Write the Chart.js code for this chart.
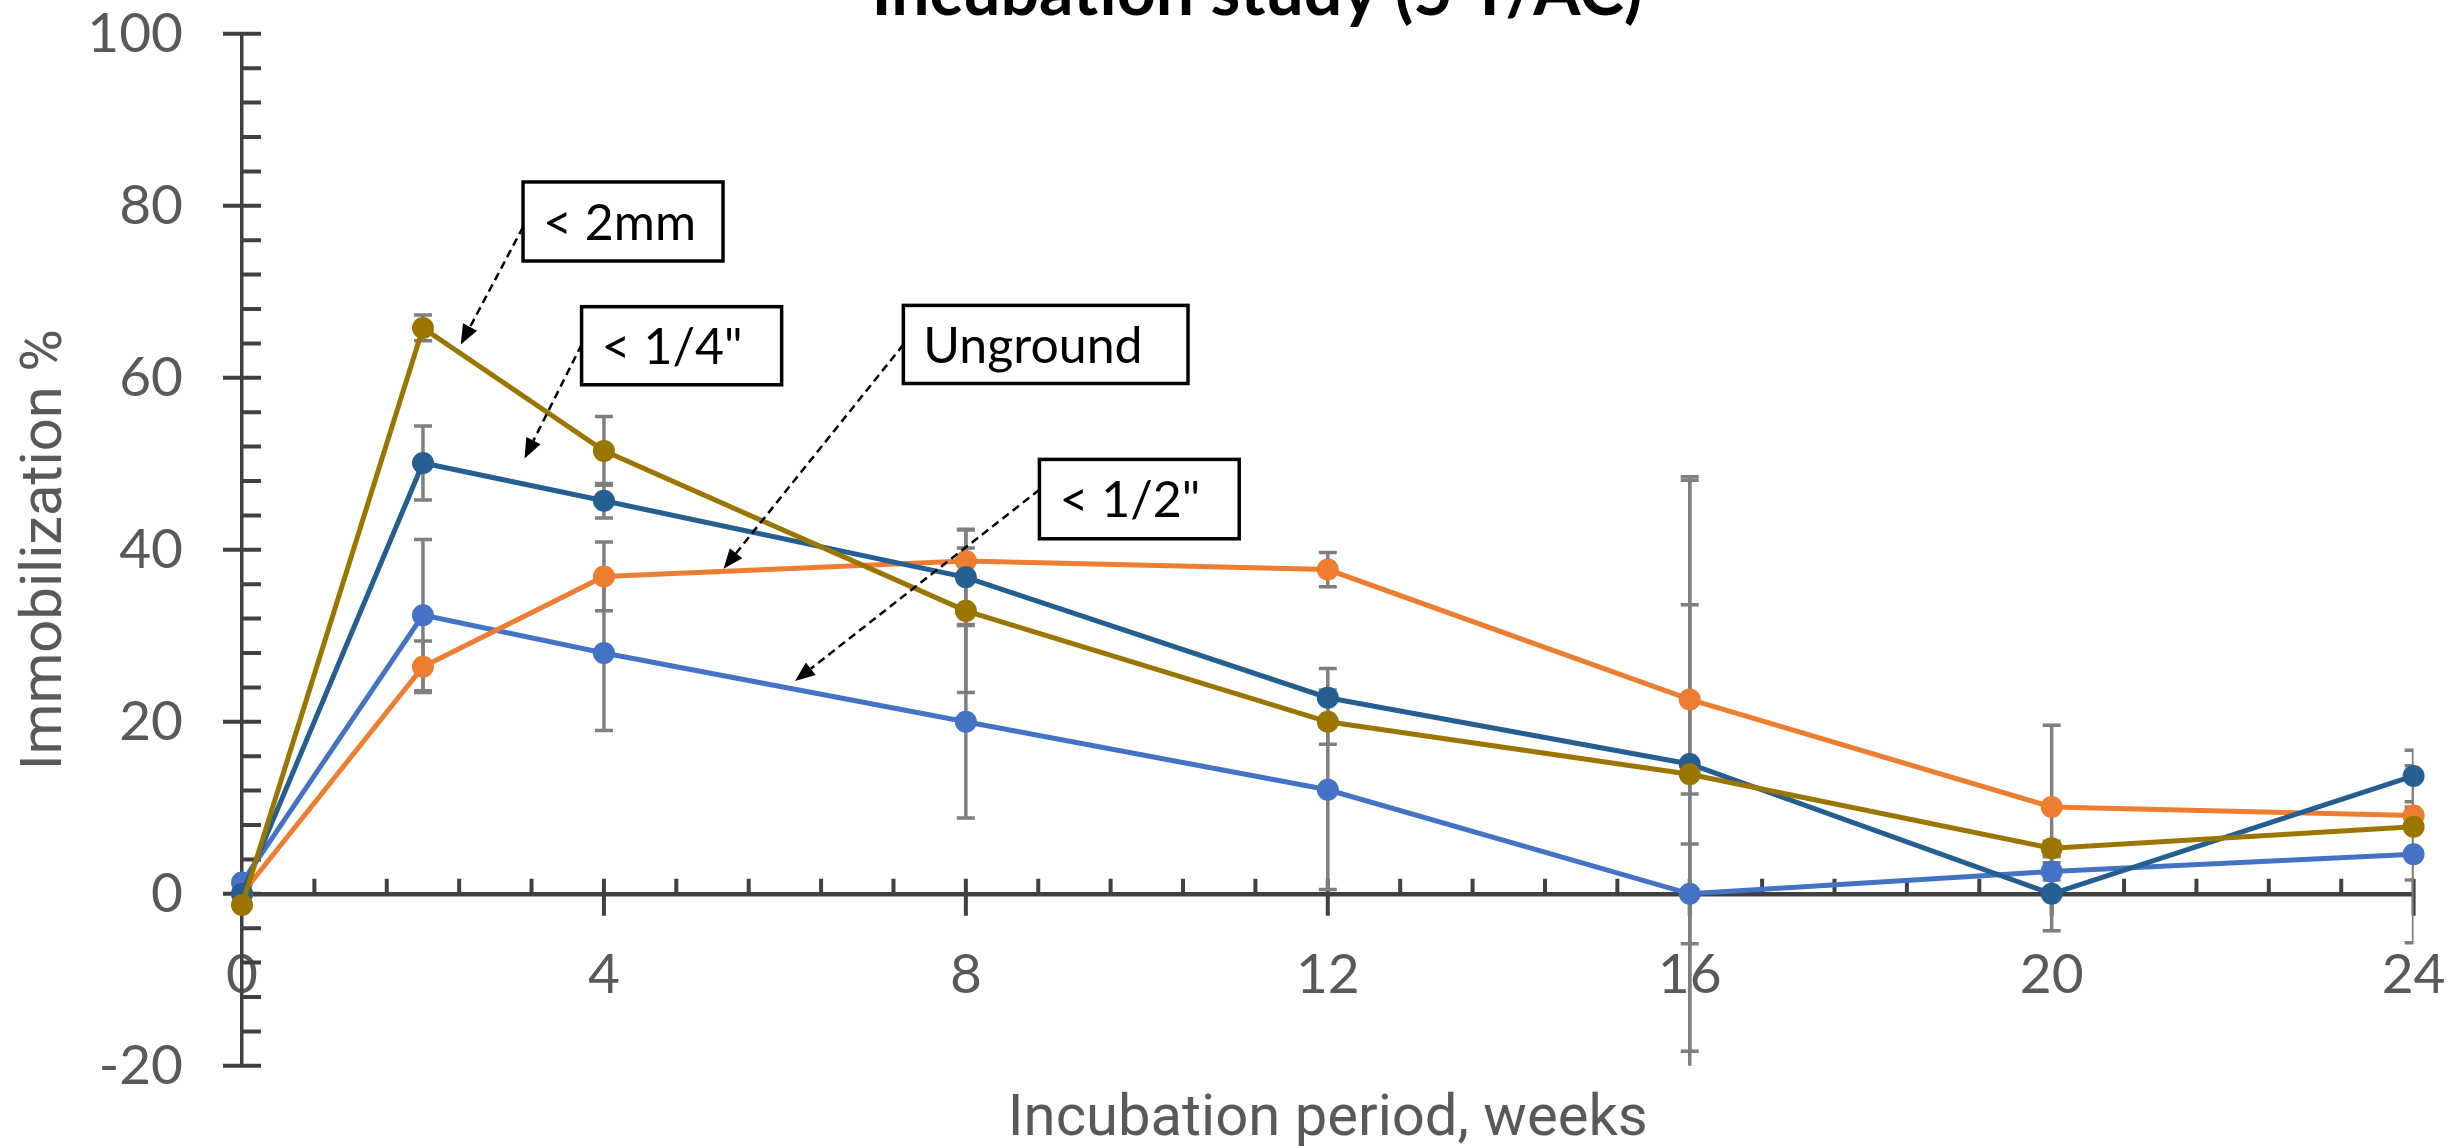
<!DOCTYPE html>
<html>
<head>
<meta charset="utf-8">
<title>Incubation study (5 T/AC)</title>
<script src="https://cdn.jsdelivr.net/npm/chart.js@4.4.1/dist/chart.umd.min.js"></script>
<style>
  html, body { margin: 0; padding: 0; background: #fff; overflow: hidden; }
  #chart { display: block; width: 2451px; height: 1146px; }
</style>
</head>
<body>
<canvas id="chart" width="2451" height="1146"></canvas>
<script>
(function () {
  'use strict';

  // ---- data ----
  var weeks = [0, 2, 4, 8, 12, 16, 20, 24];

  var seriesNames = ['< 2mm', '< 1/4"', 'Unground', '< 1/2"'];

  var below2mm = [-1.3, 65.8, 51.5, 32.9, 20.0, 13.9, 5.3, 7.8];
  var below2mmErr = [0, 1.5, 4.0, 9.5, 2.6, 34.2, 0.8, 6.2];

  var belowQuarter = [0, 50.1, 45.7, 36.8, 22.8, 15.1, 0, 13.7];
  var belowQuarterErr = [0, 4.3, 2.0, 5.5, 3.4, 33.4, 4.3, 3.0];

  var unground = [0, 26.4, 36.9, 38.7, 37.7, 22.6, 10.1, 9.1];
  var ungroundErr = [0, 3.0, 4.0, 1.5, 2.0, 11.0, 9.5, 1.0];

  var belowHalf = [1.3, 32.4, 28.0, 20.0, 12.1, 0, 2.6, 4.6];
  var belowHalfErr = [0, 8.8, 9.0, 11.2, 11.6, 5.8, 1.0, 10.3];

  var xTickValues = [0, 4, 8, 12, 16, 20, 24];
  var yTickValues = [-20, 0, 20, 40, 60, 80, 100];

  var chartTitle = 'Incubation study (5 T/AC)';
  var xTitle = 'Incubation period, weeks';
  var yTitle = 'Immobilization %';

  // callout boxes, in data units (weeks, %)
  var notes = [
    { text: '< 2mm', box: [3.106, 82.77, 5.316, 73.58], tail: [3.106, 77.53], tip: [2.417, 63.86] },
    { text: '< 1/4"', box: [3.753, 68.27, 5.964, 59.19], tail: [3.753, 63.86], tip: [3.122, 50.62] },
    { text: 'Unground', box: [7.309, 68.42, 10.455, 59.34], tail: [7.309, 63.86], tip: [5.322, 37.79] },
    { text: '< 1/2"', box: [8.813, 50.51, 11.021, 41.28], tail: [8.813, 46.99], tip: [6.112, 24.74] }
  ];

  // ---- style ----
  var colors = ['#9a7600', '#255e91', '#ed7d31', '#4472c4'];
  var AXIS = '#404040';
  var TEXT = '#595959';
  var ERR = '#7f7f7f';

  function toPoints(values) {
    return values.map(function (v, i) { return { x: weeks[i], y: v }; });
  }

  function makeDataset(idx, values, errs) {
    return {
      label: seriesNames[idx],
      data: toPoints(values),
      errors: errs,
      borderColor: colors[idx],
      backgroundColor: colors[idx],
      pointBackgroundColor: colors[idx],
      pointBorderColor: colors[idx],
      pointRadius: 11,
      pointBorderWidth: 0,
      borderWidth: 5,
      tension: 0,
      fill: false,
      clip: false
    };
  }

  var axisTicks = {
    id: 'axisTicks',
    beforeDatasetsDraw: function (chart) {
      var ctx = chart.ctx;
      var x = chart.scales.x;
      var y = chart.scales.y;
      var x0 = chart.chartArea.left;
      var y0 = y.getPixelForValue(0);
      var v;
      ctx.save();
      ctx.strokeStyle = AXIS;
      ctx.lineWidth = 4;
      ctx.beginPath();
      // x: minor every 0.8 week pointing up, major every 4 crossing
      for (v = 0.8; v < 24; v += 0.8) {
        var px = x.getPixelForValue(v);
        ctx.moveTo(px, y0 - 15);
        ctx.lineTo(px, y0);
      }
      xTickValues.forEach(function (t) {
        if (t === 0) return;
        var px = x.getPixelForValue(t);
        ctx.moveTo(px, y0 - 15);
        ctx.lineTo(px, y0 + 22);
      });
      // y: minor every 4 pointing right, major every 20 crossing
      for (v = -16; v < 100; v += 4) {
        if (v % 20 === 0) continue;
        var py = y.getPixelForValue(v);
        ctx.moveTo(x0, py);
        ctx.lineTo(x0 + 19, py);
      }
      yTickValues.forEach(function (t) {
        var py = y.getPixelForValue(t);
        ctx.moveTo(x0 - 19, py);
        ctx.lineTo(x0 + 19, py);
      });
      ctx.stroke();
      ctx.restore();
    }
  };

  var errorBars = {
    id: 'errorBars',
    beforeDatasetsDraw: function (chart) {
      var ctx = chart.ctx;
      var a = chart.chartArea;
      var x = chart.scales.x;
      var y = chart.scales.y;
      ctx.save();
      ctx.beginPath();
      ctx.rect(a.left, a.top, a.right - a.left, a.bottom - a.top);
      ctx.clip();
      ctx.strokeStyle = ERR;
      ctx.lineWidth = 3.5;
      chart.data.datasets.forEach(function (ds) {
        ds.data.forEach(function (p, j) {
          var e = ds.errors[j];
          if (!e) return;
          var px = x.getPixelForValue(p.x);
          var top = y.getPixelForValue(p.y + e);
          var bot = y.getPixelForValue(p.y - e);
          ctx.beginPath();
          ctx.moveTo(px, top);
          ctx.lineTo(px, bot);
          ctx.moveTo(px - 9, top);
          ctx.lineTo(px + 9, top);
          ctx.moveTo(px - 9, bot);
          ctx.lineTo(px + 9, bot);
          ctx.stroke();
        });
      });
      ctx.restore();
    }
  };

  var texts = {
    id: 'texts',
    afterDraw: function (chart) {
      var ctx = chart.ctx;
      var a = chart.chartArea;
      ctx.save();
      // chart title, clipped by the top edge
      ctx.font = 'bold 60px Lato';
      var size = 60 * 771 / ctx.measureText(chartTitle).width;
      ctx.font = 'bold ' + size.toFixed(1) + 'px Lato';
      ctx.fillStyle = '#000';
      ctx.textAlign = 'center';
      ctx.textBaseline = 'alphabetic';
      ctx.fillText(chartTitle, 1257, 15);

      ctx.fillStyle = TEXT;
      ctx.font = '58px Roboto';
      ctx.fillText(xTitle, (a.left + a.right) / 2, 1135);

      ctx.translate(61, (a.top + a.bottom) / 2);
      ctx.rotate(-Math.PI / 2);
      ctx.fillText(yTitle, 0, 0);
      ctx.restore();
    }
  };

  var callouts = {
    id: 'callouts',
    afterDraw: function (chart) {
      var ctx = chart.ctx;
      var x = chart.scales.x;
      var y = chart.scales.y;
      ctx.save();
      notes.forEach(function (n) {
        var bx1 = x.getPixelForValue(n.box[0]);
        var by1 = y.getPixelForValue(n.box[1]);
        var bx2 = x.getPixelForValue(n.box[2]);
        var by2 = y.getPixelForValue(n.box[3]);
        var tx = x.getPixelForValue(n.tail[0]);
        var ty = y.getPixelForValue(n.tail[1]);
        var hx = x.getPixelForValue(n.tip[0]);
        var hy = y.getPixelForValue(n.tip[1]);

        // dashed arrow
        var ang = Math.atan2(hy - ty, hx - tx);
        var len = 20;
        var bx = hx - len * Math.cos(ang);
        var by = hy - len * Math.sin(ang);
        ctx.strokeStyle = '#000';
        ctx.lineWidth = 2.5;
        ctx.setLineDash([8, 5]);
        ctx.beginPath();
        ctx.moveTo(tx, ty);
        ctx.lineTo(bx, by);
        ctx.stroke();
        ctx.setLineDash([]);
        ctx.fillStyle = '#000';
        ctx.beginPath();
        ctx.moveTo(hx, hy);
        ctx.lineTo(bx + 8 * Math.sin(ang), by - 8 * Math.cos(ang));
        ctx.lineTo(bx - 8 * Math.sin(ang), by + 8 * Math.cos(ang));
        ctx.closePath();
        ctx.fill();

        // box
        ctx.fillStyle = '#fff';
        ctx.fillRect(bx1, by1, bx2 - bx1, by2 - by1);
        ctx.lineWidth = 3.5;
        ctx.strokeRect(bx1, by1, bx2 - bx1, by2 - by1);
        ctx.fillStyle = '#000';
        ctx.font = '50px Lato';
        ctx.textAlign = 'left';
        ctx.textBaseline = 'middle';
        ctx.fillText(n.text, bx1 + 20, (by1 + by2) / 2 + 2);
      });
      ctx.restore();
    }
  };

  function draw() {
    new Chart(document.getElementById('chart'), {
      type: 'line',
      data: {
        datasets: [
          makeDataset(0, below2mm, below2mmErr),
          makeDataset(1, belowQuarter, belowQuarterErr),
          makeDataset(2, unground, ungroundErr),
          makeDataset(3, belowHalf, belowHalfErr)
        ]
      },
      options: {
        responsive: false,
        animation: false,
        devicePixelRatio: 1,
        layout: { padding: { left: 0, top: 33.8, right: 37.4, bottom: 80.2 } },
        plugins: {
          legend: { display: false },
          tooltip: { enabled: false },
          title: { display: false }
        },
        scales: {
          x: {
            type: 'linear',
            min: 0,
            max: 24,
            position: { y: 0 },
            afterBuildTicks: function (s) {
              s.ticks = xTickValues.map(function (v) { return { value: v }; });
            },
            afterFit: function (s) {
              s.height = 0;
              s.paddingLeft = 0;
              s.paddingRight = 0;
            },
            grid: { display: false, drawTicks: false },
            border: { display: true, color: AXIS, width: 4.5 },
            ticks: {
              color: TEXT,
              font: { family: 'Lato', size: 55 },
              padding: 48,
              maxRotation: 0,
              autoSkip: false
            }
          },
          y: {
            type: 'linear',
            min: -20,
            max: 100,
            afterBuildTicks: function (s) {
              s.ticks = yTickValues.map(function (v) { return { value: v }; });
            },
            afterFit: function (s) {
              s.width = 242;
              s.paddingTop = 0;
              s.paddingBottom = 0;
            },
            grid: { display: false, drawTicks: false },
            border: { display: true, color: AXIS, width: 3.5 },
            ticks: {
              color: TEXT,
              font: { family: 'Lato', size: 55 },
              padding: 59,
              autoSkip: false
            }
          }
        }
      },
      plugins: [axisTicks, errorBars, texts, callouts]
    });
  }

  var fontsReady = document.fonts && document.fonts.load ?
    Promise.all([
      document.fonts.load('55px Lato'),
      document.fonts.load('bold 60px Lato'),
      document.fonts.load('58px Roboto')
    ]) : Promise.resolve();

  fontsReady.then(draw, draw);
})();
</script>
</body>
</html>
